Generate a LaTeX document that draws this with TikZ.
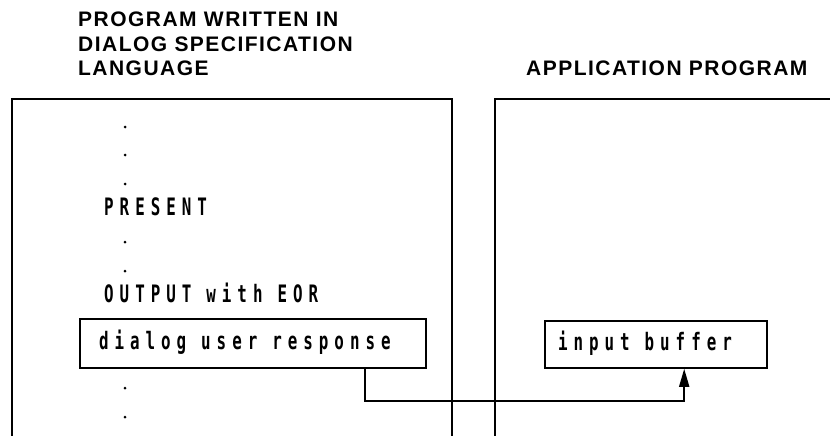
\documentclass[tikz,border=0pt]{standalone}
\usepackage{fontspec}
\usetikzlibrary{arrows.meta}
\newfontfamily\headfont[LetterSpace=7]{Liberation Sans}
\newfontfamily\codefont[FakeStretch=0.66,LetterSpace=25]{DejaVu Sans Mono}
% one character cell of the listing font, used between words
\newcommand\gap{\hspace{15pt}}
\begin{document}
\begin{tikzpicture}[x=1pt,y=-1pt,
  heading/.style={anchor=base west,inner sep=0pt,font=\headfont\bfseries\fontsize{21}{24}\selectfont,align=left},
  code/.style={anchor=base west,inner sep=0pt,font=\codefont\bfseries\fontsize{24}{24}\selectfont},
  panel/.style={line width=1.8pt,line join=miter},
  buffer/.style={draw,line width=1.6pt,rectangle,font=\codefont\bfseries\fontsize{24}{24}\selectfont,
    text height=17pt,text depth=5pt,align=left},
  link/.style={line width=1.8pt,-{Triangle[length=18pt,width=10pt]}},
  dot/.style={circle,fill,inner sep=0pt,minimum size=3pt}]
\useasboundingbox (0,0) rectangle (830,436);

% headings over the two columns
\node[heading] (hdsl) at (78,75) {PROGRAM WRITTEN IN\\DIALOG SPECIFICATION\\LANGUAGE};
\node[heading] (happ) at (526,75) {APPLICATION PROGRAM};

% the two program frames, open at the bottom
\draw[panel] (12,436) -- (12,99) -- (452,99) -- (452,436);
\draw[panel] (495,436) -- (495,99) -- (832,99);

% dialog program listing
\node[dot] (d1) at (125,127) {};
\node[dot] (d2) at (125,155) {};
\node[dot] (d3) at (125,184) {};
\node[code] (present) at (104,215) {PRESENT};
\node[dot] (d4) at (125,242) {};
\node[dot] (d5) at (125,271) {};
\node[code] (output) at (104,302) {OUTPUT\gap with\gap EOR};
\node[buffer,minimum width=346pt,minimum height=49pt,text width=308pt,inner xsep=19pt]
  (dlg) at (253,343.5) {dialog\gap user\gap response};
\node[dot] (d6) at (125,388) {};
\node[dot] (d7) at (125,417) {};

% application side
\node[buffer,minimum width=222pt,minimum height=47pt,text width=196pt,inner xsep=13pt]
  (buf) at (656,344.5) {input\gap buffer};

% data flow from the dialog response into the input buffer
\draw[link] ([xshift=286pt]dlg.south west) -- ++(0,32) -| ([xshift=140pt]buf.south west);
\end{tikzpicture}
\end{document}
